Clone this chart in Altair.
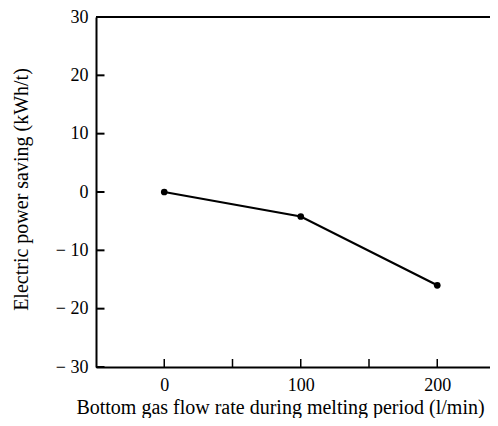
import altair as alt
import pandas as pd

flow = [0, 100, 200]
saving = [0.0, -4.2, -16.0]

y_ticks = [-30, -20, -10, 0, 10, 20, 30]
x_ticks = [0, 50, 100, 150, 200]
x_labels = [0, 100, 200]

W, H = 394, 350
X_MIN = -50
X_MAX = X_MIN + W / 1.365
Y_MIN, Y_MAX = -30, 30
FONT = "Liberation Serif"

df = pd.DataFrame({"flow": flow, "saving": saving})

xs = alt.Scale(domain=[X_MIN, X_MAX], nice=False, zero=False)
ys = alt.Scale(domain=[Y_MIN, Y_MAX], nice=False, zero=False)

tick_len_x = 8.5 * (X_MAX - X_MIN) / W
tick_len_y = 8 * (Y_MAX - Y_MIN) / H

yt = pd.DataFrame({"y": y_ticks, "x": [X_MIN] * len(y_ticks), "x2": [X_MIN + tick_len_x] * len(y_ticks)})
xt = pd.DataFrame({"x": x_ticks, "y": [Y_MIN] * len(x_ticks), "y2": [Y_MIN + tick_len_y] * len(x_ticks)})
top = pd.DataFrame({"x": [X_MIN], "x2": [X_MAX], "y": [Y_MAX]})

x_axis = alt.Axis(
    values=x_labels, tickSize=0, labelPadding=9, labelFont=FONT, labelFontSize=18,
    labelColor="black", domainColor="black", domainWidth=2, grid=False,
    title="Bottom gas flow rate during melting period (l/min)",
    titleFont=FONT, titleFontSize=20, titleFontWeight="normal", titleColor="black",
    titleX=184, titleY=46, titleAlign="center", titleAnchor="start",
    titleBaseline="alphabetic",
)
y_axis = alt.Axis(
    values=y_ticks, tickSize=0, labelPadding=8, labelFont=FONT, labelFontSize=18,
    labelColor="black", domainColor="black", domainWidth=2, grid=False,
    labelExpr="datum.value < 0 ? '\u2212 ' + abs(datum.value) : datum.label",
    title="Electric power saving (kWh/t)",
    titleFont=FONT, titleFontSize=20, titleFontWeight="normal", titleColor="black",
    titleX=-75, titleY=172, titleAngle=270, titleAlign="center", titleAnchor="start",
    titleBaseline="middle",
)

line = alt.Chart(df).mark_line(color="black", strokeWidth=2.2).encode(
    x=alt.X("flow:Q", scale=xs, axis=x_axis),
    y=alt.Y("saving:Q", scale=ys, axis=y_axis),
)
pts = alt.Chart(df).mark_circle(color="black", opacity=1, size=45).encode(
    x=alt.X("flow:Q", scale=xs), y=alt.Y("saving:Q", scale=ys)
)
ytk = alt.Chart(yt).mark_rule(color="black", strokeWidth=2).encode(
    x=alt.X("x:Q", scale=xs), x2="x2:Q", y=alt.Y("y:Q", scale=ys)
)
xtk = alt.Chart(xt).mark_rule(color="black", strokeWidth=1.5).encode(
    x=alt.X("x:Q", scale=xs), y=alt.Y("y:Q", scale=ys), y2="y2:Q"
)
topl = alt.Chart(top).mark_rule(color="black", strokeWidth=2).encode(
    x=alt.X("x:Q", scale=xs), x2="x2:Q", y=alt.Y("y:Q", scale=ys)
)

chart = alt.layer(line, pts, ytk, xtk, topl).properties(
    width=W, height=H,
    autosize=alt.AutoSizeParams(type="none"),
    padding={"left": 88, "top": 9, "right": 0, "bottom": 51},
).configure_view(stroke=None).configure(background="white")

chart.save("out.html", embed_options={"renderer": "svg", "actions": False})
